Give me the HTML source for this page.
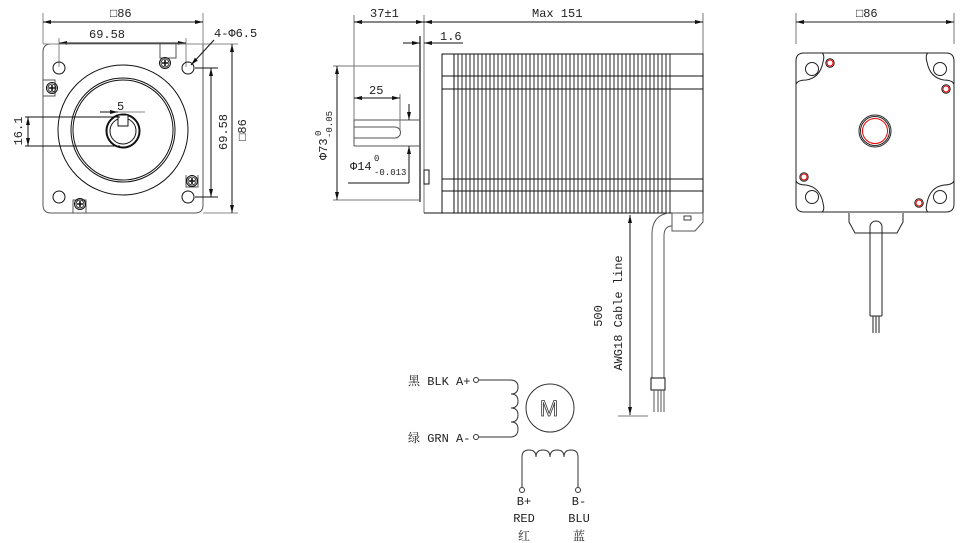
<!DOCTYPE html>
<html><head><meta charset="utf-8"><style>
html,body{margin:0;padding:0;background:#fff;}
svg{display:block;}
text{font-family:"Liberation Mono","Noto Serif CJK SC",monospace;font-size:12px;fill:#222;}
</style></head><body>
<svg width="964" height="543" viewBox="0 0 964 543" xmlns="http://www.w3.org/2000/svg">
<defs>
<marker id="a" markerWidth="8" markerHeight="6" refX="8" refY="3" orient="auto-start-reverse" markerUnits="userSpaceOnUse"><path d="M0,1 L8,3 L0,5z" fill="#111"/></marker>
<g id="scr"><circle r="5.5" fill="none" stroke="#111" stroke-width="1"/><circle r="4" fill="none" stroke="#111" stroke-width="0.8"/><path d="M-3,0H3M0,-3V3" stroke="#111" stroke-width="1.6"/></g>
</defs>
<g stroke="#111" stroke-width="1" fill="none">
<!-- LEFT VIEW -->
<path d="M43,13V44M203,13V44" stroke="#888"/>
<line x1="43" y1="22" x2="203" y2="22" marker-start="url(#a)" marker-end="url(#a)"/>
<path d="M59,38V67M186,38V67" stroke="#888"/>
<line x1="59" y1="43" x2="186" y2="43" marker-start="url(#a)" marker-end="url(#a)"/>
<path d="M53,44H203V205Q203,213 195,213H51Q43,213 43,205V52Q43,44 51,44Z" stroke="#555"/>
<path d="M43,44H238" stroke="#888"/>
<circle cx="59" cy="68" r="6"/><circle cx="188" cy="68" r="6"/><circle cx="59" cy="197" r="6"/><circle cx="188" cy="197" r="6"/>
<circle cx="123" cy="130" r="65"/>
<circle cx="123" cy="130" r="52"/><circle cx="123" cy="130" r="50"/>
<circle cx="123" cy="131" r="16.5" stroke-width="2"/><circle cx="123" cy="131" r="13"/>
<rect x="118" y="115" width="10" height="11" fill="#fff"/>
<path d="M25,117H120M25,146H120" />
<line x1="28" y1="117" x2="28" y2="146" marker-start="url(#a)" marker-end="url(#a)"/>
<path d="M100,112H145" stroke="#888"/>
<line x1="100" y1="112" x2="118" y2="112" marker-end="url(#a)"/>
<path d="M195,68H218M195,197H218"/>
<line x1="211" y1="68" x2="211" y2="197" marker-start="url(#a)" marker-end="url(#a)"/>
<path d="M203,213H238" stroke="#888"/>
<line x1="232" y1="44" x2="232" y2="213" marker-start="url(#a)" marker-end="url(#a)"/>
<line x1="214" y1="40" x2="191" y2="65" marker-end="url(#a)"/>
<path d="M160,44V58H176V44M43,80H55V96H43M186,175V187H198V175M73,213V200H86V213" stroke="#555"/>
</g>
<use href="#scr" x="165" y="63"/><use href="#scr" x="52" y="88"/><use href="#scr" x="192" y="181"/><use href="#scr" x="80" y="204"/>
<text x="110" y="17">□86</text>
<text x="89" y="38">69.58</text>
<text x="117" y="110">5</text>
<text x="214" y="37">4-Φ6.5</text>
<text transform="translate(22,131) rotate(-90)" text-anchor="middle">16.1</text>
<text transform="translate(227,132) rotate(-90)" text-anchor="middle">69.58</text>
<text transform="translate(246,130) rotate(-90)" text-anchor="middle">□86</text>

<!-- MIDDLE VIEW -->
<g stroke="#111" stroke-width="1" fill="none">
<path d="M354,15V146M424,15V213M703,13V54" stroke="#777"/>
<line x1="354" y1="22" x2="424" y2="22" marker-start="url(#a)" marker-end="url(#a)"/>
<line x1="424" y1="22" x2="703" y2="22" marker-start="url(#a)" marker-end="url(#a)"/>
<line x1="403" y1="43" x2="420" y2="43" marker-end="url(#a)"/>
<line x1="444" y1="43" x2="424" y2="43" marker-end="url(#a)"/>
<path d="M434,43H463"/>
<path d="M420,36V202" stroke-width="1.2"/>
<path d="M424,213H703V54H442V213M442,76H703M442,89H703M442,179H703M442,191H703" />
<path d="M454,54V213" />
<g stroke-width="0.9">
<path d="M458,54V213M462,54V213M466,54V213M470,54V213M474,54V213M478,54V213M482,54V213M486,54V213M490,54V213M494,54V213M498,54V213M502,54V213M506,54V213M510,54V213M514,54V213M518,54V213M522,54V213M526,54V213M530,54V213M534,54V213M538,54V213M542,54V213M546,54V213M550,54V213M554,54V213M558,54V213M562,54V213M566,54V213M570,54V213M574,54V213M578,54V213M582,54V213M586,54V213M590,54V213M594,54V213M598,54V213M602,54V213M606,54V213M610,54V213M614,54V213M618,54V213M622,54V213M626,54V213M630,54V213M634,54V213M638,54V213M642,54V213M646,54V213M650,54V213M654,54V213M658,54V213M662,54V213M666,54V213M670,54V213"/>
</g>
<path d="M354,120H420M354,146H420M354,120V146" stroke="#555"/>
<path d="M354,127H395A5.5,5.5 0 0 1 395,138H354" stroke="#555"/>
<path d="M333,66H420M333,200H420" stroke="#777"/>
<line x1="337" y1="66" x2="337" y2="200" marker-start="url(#a)" marker-end="url(#a)"/>
<path d="M400,94V130" stroke="#777"/>
<line x1="354" y1="98" x2="400" y2="98" marker-start="url(#a)" marker-end="url(#a)"/>
<line x1="409" y1="104" x2="409" y2="120" marker-end="url(#a)"/>
<line x1="409" y1="183" x2="409" y2="146" marker-end="url(#a)"/>
<path d="M348,183H409"/>
<rect x="424" y="170" width="5" height="14"/>
<path d="M672,213H703V222L695,231H672Z" stroke="#555"/>
<rect x="684" y="216" width="7" height="4" stroke-width="0.8"/>
<path d="M668,213Q652,216 652,234V378M672,226Q664,226 664,236V378" stroke="#555"/>
<rect x="651" y="378" width="14" height="12"/>
<path d="M654,390V412M658,390V412M661,390V412M664,390V412" stroke="#555"/>
<line x1="630" y1="226" x2="630" y2="215" marker-end="url(#a)"/>
<line x1="630" y1="226" x2="630" y2="415" marker-end="url(#a)"/>
<path d="M618,416H648" stroke="#777"/>
</g>
<text x="370" y="17">37±1</text>
<text x="532" y="17">Max 151</text>
<text x="440" y="40">1.6</text>
<text x="369" y="94">25</text>
<text x="350" y="170">Φ14</text><text x="374" y="161" style="font-size:9px">0</text><text x="374" y="175" style="font-size:9px">-0.013</text>
<text transform="translate(327,160) rotate(-90)">Φ73</text>
<text transform="translate(321,136) rotate(-90)" style="font-size:9px">0</text>
<text transform="translate(332,138) rotate(-90)" style="font-size:9px">-0.05</text>
<text transform="translate(602,316) rotate(-90)" text-anchor="middle">500</text>
<text transform="translate(622,313) rotate(-90)" text-anchor="middle">AWG18 Cable line</text>

<!-- RIGHT VIEW -->
<g stroke="#222" stroke-width="1" fill="none">
<path d="M796,13V44M954,13V44" stroke="#777"/>
<line x1="796" y1="22" x2="954" y2="22" marker-start="url(#a)" marker-end="url(#a)"/>
<path d="M804,53H946Q954,53 954,61V204Q954,212 946,212H804Q796,212 796,204V61Q796,53 804,53Z"/>
<path d="M822,53Q825,55 823,62Q820,78 806,80Q798,80 796,84"/>
<path d="M928,53Q925,55 927,62Q930,78 944,80Q952,80 954,84"/>
<path d="M822,212Q825,210 823,203Q820,187 806,185Q798,185 796,181"/>
<path d="M928,212Q925,210 927,203Q930,187 944,185Q952,185 954,181"/>
<circle cx="812" cy="69" r="6.5"/><circle cx="940" cy="69" r="6.5"/><circle cx="812" cy="197" r="6.5"/><circle cx="940" cy="197" r="6.5"/>
<circle cx="875" cy="131" r="16"/><circle cx="875" cy="131" r="14.5"/>
<circle cx="875" cy="131" r="12.5" stroke="#e00"/>
<g stroke="#e00"><circle cx="830" cy="63" r="3"/><circle cx="946" cy="89" r="3"/><circle cx="804" cy="177" r="3"/><circle cx="919" cy="203" r="3"/></g>
<g><circle cx="830" cy="63" r="4.2"/><circle cx="946" cy="89" r="4.2"/><circle cx="804" cy="177" r="4.2"/><circle cx="919" cy="203" r="4.2"/></g>
<path d="M849,213V222L855,233H897L903,222V213" />
<path d="M870,316V227A6,6 0 0 1 882,227V316" />
<path d="M870,316H882M873,316V333M876,316V333M879,316V333"/>
</g>
<text x="856" y="17">□86</text>

<!-- SCHEMATIC -->
<g stroke="#333" stroke-width="1" fill="none">
<circle cx="476" cy="380" r="2.5"/>
<path d="M479,380H510Q518,380 518,387Q518,394 511,394Q518,394 518,401Q518,408 511,408Q518,408 518,415Q518,422 511,422Q518,422 518,429Q518,437 510,437H479"/>
<circle cx="476" cy="437" r="2.5"/>
<circle cx="550" cy="408" r="24"/>
<path d="M522,487V457Q522,450 529,450Q536,450 536,457Q536,450 543,450Q550,450 550,457Q550,450 557,450Q564,450 564,457Q564,450 571,450Q578,450 578,457V487"/>
<circle cx="522" cy="490" r="2.5"/><circle cx="578" cy="490" r="2.5"/>
</g>
<text x="549" y="416" text-anchor="middle" style="font-family:'Liberation Sans',sans-serif;font-size:22px;font-weight:100;fill:none;stroke:#333;stroke-width:0.8">M</text>
<text x="408" y="385">黑 BLK A+</text>
<text x="408" y="442">绿 GRN A-</text>
<text x="524" y="505" text-anchor="middle">B+</text>
<text x="524" y="522" text-anchor="middle">RED</text>
<text x="524" y="540" text-anchor="middle">红</text>
<text x="579" y="505" text-anchor="middle">B-</text>
<text x="579" y="522" text-anchor="middle">BLU</text>
<text x="579" y="540" text-anchor="middle">蓝</text>
</svg>
</body></html>
